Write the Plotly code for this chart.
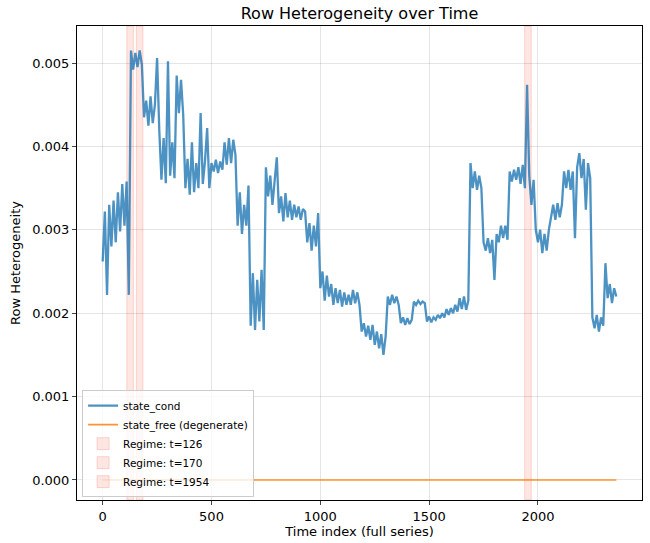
import plotly.graph_objects as go

# Time index of sampled points (step 10) and state_cond values (units of 1e-3)
time_idx = list(range(0, 2361, 10))
cond_milli = [
    2.62, 3.22, 2.22, 3.30, 2.80, 3.35, 2.85, 3.45, 2.98, 3.55,
    3.05, 3.58, 2.22, 5.15, 4.92, 5.12, 4.95, 5.15, 4.98, 4.35,
    4.55, 4.25, 4.60, 4.28, 4.50, 5.06, 4.20, 3.60, 4.10, 3.56,
    5.02, 3.65, 4.05, 3.62, 4.85, 4.40, 4.80, 4.38, 3.50, 3.85,
    3.42, 4.05, 3.45, 3.80, 3.50, 4.40, 3.55, 3.82, 4.22, 3.50,
    3.80, 3.70, 3.84, 3.68, 3.82, 3.72, 4.05, 3.78, 4.10, 3.80,
    4.08, 3.90, 3.05, 3.45, 2.95, 3.30, 3.05, 3.53, 1.85, 2.48,
    1.80, 2.40, 1.90, 2.52, 1.80, 3.75, 3.40, 3.65, 3.30, 3.55,
    3.87, 3.20, 3.40, 3.10, 3.44, 3.15, 3.35, 3.12, 3.30, 3.15,
    3.28, 3.12, 3.25, 3.22, 2.85, 3.08, 2.75, 3.05, 2.80, 3.20,
    2.30, 2.50, 2.15, 2.45, 2.20, 2.35, 2.10, 2.30, 2.12, 2.28,
    2.08, 2.25, 2.10, 2.22, 2.10, 2.28, 2.12, 2.25, 2.10, 1.78,
    1.88, 1.72, 1.85, 1.68, 1.86, 1.62, 1.78, 1.58, 1.75, 1.50,
    1.72, 2.20, 2.10, 2.22, 2.12, 2.20, 2.10, 1.88, 1.95, 1.86,
    1.94, 1.87, 1.92, 2.14, 2.10, 2.15, 2.11, 2.14, 2.12, 1.90,
    1.96, 1.89, 1.95, 1.92, 1.98, 1.94, 2.00, 1.95, 2.05, 1.98,
    2.06, 2.00, 2.10, 2.02, 2.18, 2.05, 2.20, 2.04, 2.15, 3.80,
    3.50, 3.70, 3.48, 3.65, 3.50, 2.85, 2.75, 2.90, 2.72, 2.88,
    2.40, 2.95, 2.85, 3.05, 2.90, 3.05, 2.88, 3.70, 3.58, 3.72,
    3.60, 3.75, 3.55, 3.78, 3.50, 4.74, 3.65, 3.30, 3.60, 3.00,
    2.85, 3.00, 2.72, 2.95, 2.75, 3.00, 3.15, 3.30, 3.12, 3.32,
    3.15, 3.30, 3.70, 3.50, 3.72, 3.48, 3.70, 2.90, 3.75, 3.92,
    3.62, 3.85, 3.24, 3.80, 3.62, 1.95, 1.82, 1.98, 1.78, 1.95,
    1.85, 2.60, 2.18, 2.35, 2.12, 2.30, 2.20,
]
cond_vals = [v * 1e-3 for v in cond_milli]

# state_free (degenerate): flat at zero across the series
free_t = [0, 2360]
free_vals = [0.0, 0.0]

# Regime change points and shaded half-width
regime_t = [126, 170, 1954]
regime_halfwidth = 15

xticks = [0, 500, 1000, 1500, 2000]
yticks = [0.000, 0.001, 0.002, 0.003, 0.004, 0.005]
ytick_labels = ["0.000", "0.001", "0.002", "0.003", "0.004", "0.005"]

FONT = "DejaVu Sans"

fig = go.Figure()
fig.add_trace(go.Scatter(
    x=time_idx, y=cond_vals, mode="lines", name="state_cond",
    line=dict(color="rgba(31,119,180,0.8)", width=2.3),
))
fig.add_trace(go.Scatter(
    x=free_t, y=free_vals, mode="lines", name="state_free (degenerate)",
    line=dict(color="rgba(255,127,14,0.85)", width=1.6),
))

for t in regime_t:
    fig.add_shape(
        type="rect", xref="x", yref="paper",
        x0=t - regime_halfwidth, x1=t + regime_halfwidth, y0=0, y1=1,
        fillcolor="rgba(250,128,114,0.2)",
        line=dict(color="rgba(250,128,114,0.3)", width=1),
        layer="below", showlegend=True, name=f"Regime: t={t}",
    )

fig.update_layout(
    width=650, height=543,
    margin=dict(l=77, r=8, t=26, b=43, autoexpand=False),
    paper_bgcolor="white", plot_bgcolor="white",
    font=dict(family=FONT, size=13, color="black"),
    title=dict(text="Row Heterogeneity over Time", x=0.5, xref="paper",
               xanchor="center", y=0.976, yanchor="middle",
               font=dict(size=16, family=FONT, color="black")),
    legend=dict(
        x=0.009, y=0.006, xanchor="left", yanchor="bottom",
        bgcolor="rgba(255,255,255,0.8)", bordercolor="#cccccc", borderwidth=1,
        font=dict(size=10.5, family=FONT), tracegroupgap=0,
    ),
    showlegend=True,
)
fig.update_xaxes(
    range=[-118, 2478], tickvals=xticks, ticks="outside", ticklen=4,
    showline=True, linecolor="black", linewidth=1, mirror=True,
    showgrid=True, gridcolor="rgba(0,0,0,0.1)", gridwidth=1, zeroline=False,
    title=dict(text="Time index (full series)", font=dict(size=13), standoff=4),
    tickfont=dict(size=13), automargin=False,
)
fig.update_yaxes(
    range=[-0.00024, 0.005444], tickvals=yticks, ticktext=ytick_labels,
    ticks="outside", ticklen=4,
    showline=True, linecolor="black", linewidth=1, mirror=True,
    showgrid=True, gridcolor="rgba(0,0,0,0.1)", gridwidth=1, zeroline=False,
    title=dict(text="Row Heterogeneity", font=dict(size=13), standoff=8),
    tickfont=dict(size=13), automargin=False,
)

fig.write_html("out.html")
